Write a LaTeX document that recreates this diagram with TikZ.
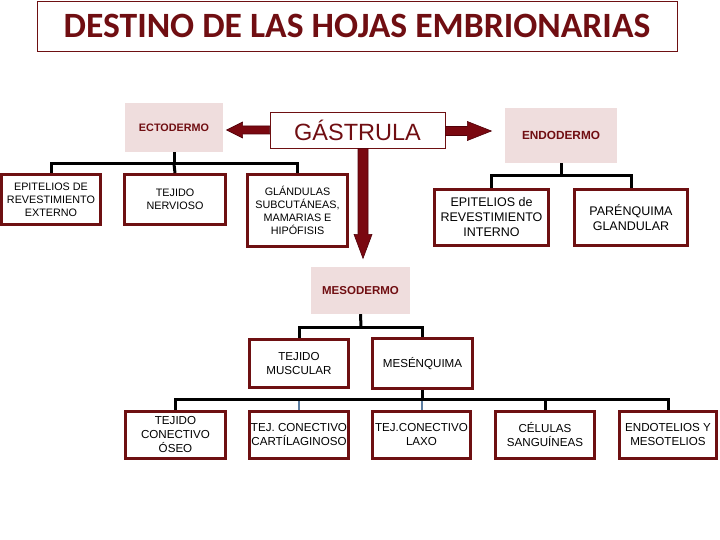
\documentclass[tikz,border=0pt]{standalone}
\usepackage{fontspec}
\setmainfont{Liberation Sans}
\newfontfamily\titlefont{Carlito}
\definecolor{boxred}{RGB}{110,16,18}
\definecolor{titlered}{RGB}{112,14,18}
\definecolor{arrowred}{RGB}{122,8,16}
\definecolor{arrowdark}{RGB}{80,0,8}
\definecolor{pinkbg}{RGB}{239,221,221}
\definecolor{steel}{RGB}{92,125,160}
\tikzset{
  kidbox/.style={draw=boxred, line width=2.8pt, fill=white, align=center, inner sep=0pt, font=\fontsize{10.8}{13}\selectfont},
  kidboxb/.style={kidbox, font=\fontsize{12.5}{15}\selectfont},
  kidboxc/.style={kidbox, font=\fontsize{11.6}{14}\selectfont},
  germ/.style={fill=pinkbg, draw=none, align=center, inner sep=0pt, text=titlered, font=\bfseries\fontsize{10.8}{12}\selectfont},
  tree/.style={line width=3pt, draw=black},
  bluetree/.style={line width=2pt, draw=steel},
  bigarrow/.style={fill=arrowred, draw=arrowdark, line width=0.6pt}
}
\begin{document}
\begin{tikzpicture}[x=1pt,y=-1pt]
\useasboundingbox (0,0) rectangle (720,540);
% title
\node[draw=boxred, line width=0.8pt, minimum width=640pt, minimum height=50pt, inner sep=0pt,
  text=titlered, font=\titlefont\bfseries\fontsize{35.6}{40}\selectfont] (title) at (357,26) {DESTINO DE LAS HOJAS EMBRIONARIAS};
% germ layers
\node[draw=boxred, line width=0.8pt, fill=white, minimum width=175pt, minimum height=36pt, inner sep=0pt,
  text=titlered, font=\fontsize{23.5}{26}\selectfont] (gast) at (357.5,130) {GÁSTRULA};
\node[germ, minimum width=98pt, minimum height=49pt] (ecto) at (174,127.5) {ECTODERMO};
\node[germ, minimum width=112pt, minimum height=55pt, font=\bfseries\fontsize{11.8}{14}\selectfont] (endo) at (561,135.5) {ENDODERMO};
\node[germ, minimum width=99pt, minimum height=47pt, font=\bfseries\fontsize{11.5}{14}\selectfont] (meso) at (360.5,290.5) {MESODERMO};
% arrows
\draw[bigarrow] (gast.west) ++(0,-4) -- ++(-27,0) -- ++(0,-4) -- ++(-16,8) -- ++(16,8) -- ++(0,-4) -- ++(27,0) -- cycle;
\draw[bigarrow] (gast.east) ++(0,-3.5) -- ++(22,0) -- ++(0,-5) -- ++(24,9.5) -- ++(-24,9.5) -- ++(0,-5) -- ++(-22,0) -- cycle;
\draw[bigarrow] (gast.south) ++(0.5,0) -- ++(0,86) -- ++(-4,0) -- ++(9,24) -- ++(9,-24) -- ++(-4,0) -- ++(0,-86) -- cycle;
% ectoderm children
\node[kidbox, minimum width=99pt, minimum height=50pt] (epiext) at (51,199.5) {EPITELIOS DE\\REVESTIMIENTO\\EXTERNO};
\node[kidbox, minimum width=101pt, minimum height=50pt] (nerv) at (175,199.5) {TEJIDO\\NERVIOSO};
\node[kidbox, minimum width=100pt, minimum height=72pt] (glan) at (297.5,210.5) {GLÁNDULAS\\SUBCUTÁNEAS,\\MAMARIAS E\\HIPÓFISIS};
% endoderm children
\node[kidboxb, minimum width=114pt, minimum height=56pt] (epiint) at (491.5,217.5) {EPITELIOS de\\REVESTIMIENTO\\INTERNO};
\node[kidboxb, minimum width=113pt, minimum height=56pt] (paren) at (631,217.5) {PARÉNQUIMA\\GLANDULAR};
% mesoderm children
\node[kidboxc, minimum width=99pt, minimum height=48pt] (musc) at (299,363.5) {TEJIDO\\MUSCULAR};
\node[kidboxc, minimum width=100pt, minimum height=50pt] (mesen) at (422.5,363.5) {MESÉNQUIMA};
% mesenchyme children
\node[kidboxc, minimum width=100pt, minimum height=47pt] (oseo) at (175.5,435) {TEJIDO\\CONECTIVO\\ÓSEO};
\node[kidboxc, minimum width=99pt, minimum height=47pt] (cart) at (299,435) {TEJ. CONECTIVO\\CARTÍLAGINOSO};
\node[kidboxc, minimum width=98pt, minimum height=47pt] (laxo) at (421.5,435) {TEJ.CONECTIVO\\LAXO};
\node[kidboxc, minimum width=99pt, minimum height=47pt] (cel) at (545,435) {CÉLULAS\\SANGUÍNEAS};
\node[kidboxc, minimum width=97pt, minimum height=47pt] (endot) at (668,435) {ENDOTELIOS Y\\MESOTELIOS};
% trees
\coordinate (ej) at (174,164);
\draw[tree] (ecto.south) -- (ej);
\draw[tree] (ej) -| (epiext.north);
\draw[tree] (ej) -| (glan.north);
\draw[tree] (ej) -- (nerv.north);
\coordinate (nj) at (561,176);
\draw[tree] (endo.south) -- (nj);
\draw[tree] (nj) -| (epiint.north);
\draw[tree] (nj) -| (paren.north);
\coordinate (mj) at (361,327);
\draw[tree] (meso.south) -- (mj);
\draw[tree] (mj) -| (musc.north);
\draw[tree] (mj) -| (mesen.north);
\coordinate (sj) at (422.5,399);
\coordinate (sjl) at (299,399);
\coordinate (sjr) at (421.5,399);
\draw[bluetree] (sjl) -- (cart.north);
\draw[bluetree] (sjr) -- (laxo.north);
\draw[tree] (mesen.south) -- (sj);
\draw[tree] (sj) -| (oseo.north);
\draw[tree] (sj) -| (endot.north);
\draw[tree] (cel.north) -- (cel.north |- sj);
\end{tikzpicture}
\end{document}
